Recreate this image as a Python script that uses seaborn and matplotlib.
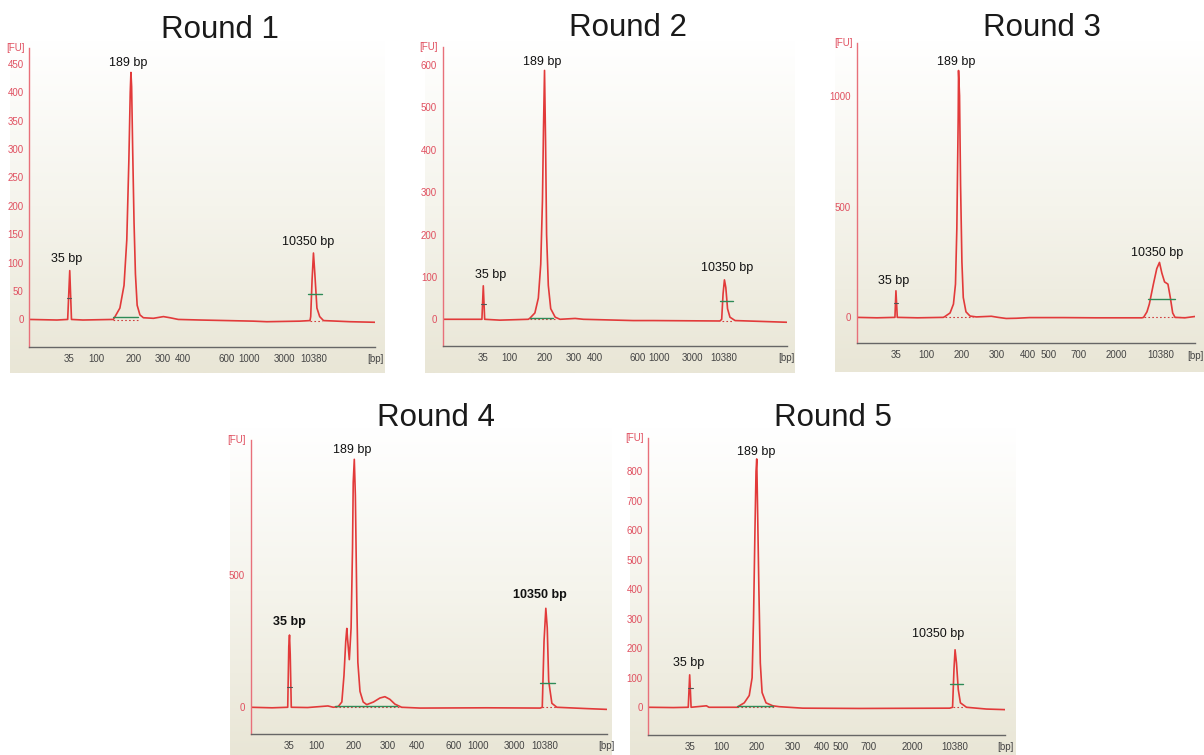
import numpy as np
import pandas as pd
import matplotlib
matplotlib.use("Agg")
import matplotlib.pyplot as plt
import seaborn as sns
from matplotlib.colors import LinearSegmentedColormap

sns.set_theme(style="white")
plt.rcParams['font.family'] = ['Liberation Sans', 'DejaVu Sans']

# ---------------- data (x = migration position, % of axis width; y = FU) -------------
r1_pos = [0, 8, 11.1, 11.7, 12.2, 15.5, 24.3, 24.8, 26.2, 27.4, 28.2, 28.8, 29.2, 29.4, 29.6, 29.9,
          30.3, 30.7, 31.2, 32.0, 33.0, 35.9, 38.8, 40.7, 43.1, 49.4, 64.8, 68.7, 78.3, 81.2, 81.4,
          81.8, 82.2, 82.6, 83.2, 84.0, 85.1, 92.8, 100]
r1_fu = [0, -1, 0, 86, 0, -1, 0, 5, 20, 60, 140, 280, 400, 435, 410, 300,
         170, 80, 25, 8, 3, 2, 5, 3, 0, -1, -3, -4, -3, -2, 5,
         70, 117, 80, 20, 5, -2, -4, -5]

r2_pos = [0, 8, 11.4, 11.8, 12.2, 16.6, 24.9, 25.4, 26.8, 27.8, 28.5, 29.0, 29.3, 29.6, 29.9, 30.2,
          30.7, 31.4, 32.7, 34.1, 38.5, 40.9, 55.4, 61.2, 80.6, 81.1, 81.5, 81.9, 82.3, 82.8, 83.5,
          85.0, 100]
r2_fu = [0, 0, 0, 79, 0, -2, 0, 3, 15, 50, 130, 280, 450, 587, 420, 200,
         80, 25, 5, 0, 2, 0, -3, -3, -4, 0, 60, 93, 75, 25, 5,
         -3, -7]

r3_pos = [0, 6, 11.3, 11.6, 12.0, 18, 25.6, 26.1, 27.6, 28.6, 29.2, 29.6, 30.0, 30.1, 30.4, 30.7,
          31.1, 31.5, 32.3, 33.5, 35.4, 39.8, 41.8, 44.2, 47.2, 51.1, 60.9, 70.6, 84.3, 84.8, 85.8,
          86.5, 87.7, 88.7, 89.5, 90.2, 91.0, 92.0, 92.7, 93.4, 94.1, 97, 100]
r3_fu = [0, -2, 0, 120, 0, -2, 0, 4, 20, 60, 150, 400, 900, 1114, 1000, 600,
         250, 90, 25, 6, 2, 5, 0, -5, -4, -1, -1, -2, -2, 0, 25,
         60, 150, 220, 248, 200, 160, 150, 90, 20, 0, -2, 4]

r4_pos = [0, 6, 10.4, 10.7, 10.9, 11.1, 11.4, 16, 21.7, 23.2, 24.6, 25.6, 26.2, 26.7, 27.0, 27.2,
          27.7, 28.2, 28.6, 28.8, 29.1, 29.4, 29.8, 30.1, 30.7, 31.6, 32.6, 34.5, 36.3, 37.7, 39.1,
          40.5, 42.4, 47.6, 66.3, 81.3, 81.9, 82.4, 82.9, 83.3, 83.7, 84.6, 86.0, 94.4, 100]
r4_fu = [0, -2, 0, 230, 273, 200, 0, -1, 5, 0, 3, 20, 120, 250, 298, 260,
         180, 300, 600, 850, 937, 800, 400, 170, 60, 20, 10, 20, 35, 40, 30,
         12, 0, -3, -2, -3, 0, 250, 374, 300, 100, 15, 0, -5, -8]

r5_pos = [0, 7, 11.2, 11.6, 12.0, 16.3, 17, 25.0, 25.5, 26.9, 28.3, 29.1, 29.5, 29.9, 30.2, 30.4,
          30.6, 31.0, 31.4, 31.9, 33.0, 34.9, 36.7, 43.3, 59.2, 84.5, 85.3, 85.7, 86.0, 86.4, 86.9,
          87.5, 89.2, 94.8, 100]
r5_fu = [0, -1, 0, 110, 0, 5, 0, 0, 5, 15, 40, 100, 300, 600, 800, 842,
         700, 400, 150, 50, 15, 5, 2, -3, -4, -3, 0, 130, 195, 150, 60,
         15, 0, -6, -8]

ticks_a = ["35", "", "100", "", "200", "300", "400", "", "600", "", "1000", "", "3000", "", "10380"]
ticks_b = ["35", "", "100", "", "200", "300", "400", "500", "", "700", "", "2000", "", "", "10380"]
r1_tick_pos = [11.6, 14.0, 19.3, 24.8, 30.1, 38.5, 44.4, 52.7, 57.1, 60.7, 63.6, 70.6, 73.7, 78.8, 82.2]
r2_tick_pos = [11.8, 14.2, 19.4, 24.6, 29.5, 38.2, 44.2, 52.7, 56.6, 60.3, 63.0, 70.4, 72.7, 78.7, 81.8]
r3_tick_pos = [11.6, 14.0, 20.6, 26.0, 30.9, 41.3, 50.6, 56.8, 62.2, 65.6, 70.4, 76.7, 80.1, 85.8, 89.9]
r4_tick_pos = [10.8, 13.2, 18.5, 23.7, 28.8, 38.4, 46.6, 52.7, 57.0, 60.7, 63.8, 71.0, 74.0, 79.4, 82.7]
r5_tick_pos = [11.8, 14.2, 20.5, 25.4, 30.5, 40.4, 48.7, 53.9, 60.1, 61.7, 67.7, 74.0, 76.9, 82.5, 86.0]

r1_yticks = [0, 50, 100, 150, 200, 250, 300, 350, 400, 450]
r2_yticks = [0, 100, 200, 300, 400, 500, 600]
r3_yticks = [0, 500, 1000]
r4_yticks = [0, 500]
r5_yticks = [0, 100, 200, 300, 400, 500, 600, 700, 800]

peak_names = ["35 bp", "189 bp", "10350 bp"]
r1_lab = [(10.8, 106), (28.6, 451), (80.7, 137)]
r2_lab = [(14.0, 105), (29.0, 606), (82.7, 120)]
r3_lab = [(10.9, 166), (29.4, 1152), (88.7, 292)]
r4_lab = [(10.8, 321), (28.5, 972), (81.1, 424)]
r5_lab = [(11.4, 149), (30.2, 865), (81.2, 248)]

# region markers: (x0, x1, y)
r1_green = [(24.3, 31.5, 4), (80.7, 84.6, 44)]
r1_black = [(10.8, 12.2, 37)]
r1_dots = [(24.3, 32.0, -1), (81.2, 84.6, -2)]
r2_green = [(25.4, 32.2, 4), (80.6, 84.5, 43)]
r2_black = [(11.1, 12.6, 35)]
r2_dots = [(25.4, 32.7, 0), (81.1, 84.5, -3)]
r3_green = [(86.0, 94.1, 85)]
r3_black = [(11.0, 12.3, 67)]
r3_dots = [(26.1, 34.5, 0), (84.8, 97.0, 0)]
r4_green = [(23.7, 41.0, 3), (81.3, 85.5, 92)]
r4_black = [(10.1, 11.5, 75)]
r4_dots = [(23.7, 42.4, 0), (81.9, 86.0, 0)]
r5_green = [(25.0, 34.9, 3), (84.5, 88.3, 79)]
r5_black = [(11.0, 12.4, 67)]
r5_dots = [(25.0, 35.5, 0), (85.3, 88.3, 0)]

panels = [
    dict(title="Round 1", pos=r1_pos, fu=r1_fu, tpos=r1_tick_pos, tlab=ticks_a, yt=r1_yticks,
         ylim=(-48, 478), lab=r1_lab, green=r1_green, black=r1_black, dots=r1_dots,
         box=(10, 40, 385, 373), ax=(29.3, 48, 375, 346.7), tx=(220, 38), bold=False),
    dict(title="Round 2", pos=r2_pos, fu=r2_fu, tpos=r2_tick_pos, tlab=ticks_a, yt=r2_yticks,
         ylim=(-63, 643), lab=r2_lab, green=r2_green, black=r2_black, dots=r2_dots,
         box=(425, 40, 795, 373), ax=(442.7, 46.7, 786.7, 346), tx=(628, 36), bold=False),
    dict(title="Round 3", pos=r3_pos, fu=r3_fu, tpos=r3_tick_pos, tlab=ticks_b, yt=r3_yticks,
         ylim=(-117, 1238), lab=r3_lab, green=r3_green, black=r3_black, dots=r3_dots,
         box=(835, 40, 1204, 372), ax=(856.7, 43, 1195, 343.3), tx=(1042, 36), bold=False),
    dict(title="Round 4", pos=r4_pos, fu=r4_fu, tpos=r4_tick_pos, tlab=ticks_a, yt=r4_yticks,
         ylim=(-101, 1010), lab=r4_lab, green=r4_green, black=r4_black, dots=r4_dots,
         box=(230, 427, 612, 755), ax=(250.7, 440, 606.7, 734), tx=(436, 426), bold=True),
    dict(title="Round 5", pos=r5_pos, fu=r5_fu, tpos=r5_tick_pos, tlab=ticks_b, yt=r5_yticks,
         ylim=(-94, 913), lab=r5_lab, green=r5_green, black=r5_black, dots=r5_dots,
         box=(630, 427, 1015, 755), ax=(648.3, 438, 1005, 735), tx=(833, 426), bold=False),
]

W, H = 1204, 755
fig = plt.figure(figsize=(W / 100, H / 100), dpi=100)
fig.patch.set_facecolor("white")

grad = np.linspace(0, 1, 256).reshape(-1, 1)
bg_cmap = LinearSegmentedColormap.from_list("bg", ["#ffffff", "#f5f4ec", "#e9e6d6"])

LINE = "#e23a3a"
SPINE_RED = "#e8707a"
narrow = ['Liberation Sans Narrow', 'Liberation Sans', 'DejaVu Sans']

for p in panels:
    x0, y0, x1, y1 = p["box"]
    bg = fig.add_axes([x0 / W, 1 - y1 / H, (x1 - x0) / W, (y1 - y0) / H], zorder=0)
    bg.imshow(grad, aspect="auto", cmap=bg_cmap, extent=(0, 1, 0, 1), origin="upper")
    bg.set_axis_off()

    ax0, ay0, ax1, ay1 = p["ax"]
    ax = fig.add_axes([ax0 / W, 1 - ay1 / H, (ax1 - ax0) / W, (ay1 - ay0) / H], zorder=1)
    ax.patch.set_alpha(0)

    df = pd.DataFrame({"pos": p["pos"], "fu": p["fu"]})
    sns.lineplot(data=df, x="pos", y="fu", ax=ax, color=LINE, lw=1.2, estimator=None, sort=False)

    for (a, b, y) in p["dots"]:
        ax.plot([a, b], [y, y], color="#d04040", lw=0.8, ls=(0, (1.5, 2)), zorder=1)
    for (a, b, y) in p["green"]:
        ax.plot([a, b], [y, y], color="#2e8b57", lw=1.0, zorder=3)
    for (a, b, y) in p["black"]:
        ax.plot([a, b], [y, y], color="#555555", lw=0.8, zorder=3)

    for name, (lx, ly) in zip(peak_names, p["lab"]):
        fw = "bold" if (p["bold"] and name != "189 bp") else "normal"
        ax.text(lx, ly, name, ha="center", va="center", fontsize=9, color="#111111", fontweight=fw)

    ax.set_xlim(0, 100)
    ax.set_ylim(*p["ylim"])
    ax.set_xticks(p["tpos"])
    ax.set_xticklabels(p["tlab"], fontsize=7, color="#444444", family=narrow)
    ax.set_yticks(p["yt"])
    ax.set_yticklabels([str(v) for v in p["yt"]], fontsize=7, color="#e05060", family=narrow)
    ax.tick_params(axis="x", direction="out", length=3.5, width=0.8, color="#555555", pad=1.5)
    ax.tick_params(axis="y", direction="out", length=3, width=0.8, color=SPINE_RED, pad=1)
    ax.set_xlabel("")
    ax.set_ylabel("")
    for s in ["top", "right"]:
        ax.spines[s].set_visible(False)
    ax.spines["left"].set_color(SPINE_RED)
    ax.spines["left"].set_linewidth(1.0)
    ax.spines["bottom"].set_color("#666666")
    ax.spines["bottom"].set_linewidth(1.0)

    ax.text(-0.04, 1.0, "[FU]", transform=ax.transAxes, ha="center", va="center",
            fontsize=7, color="#e05060", family=narrow)
    ax.text(1.0, -0.025, "[bp]", transform=ax.transAxes, ha="center", va="top",
            fontsize=7, color="#444444", family=narrow)

    fig.text(p["tx"][0] / W, 1 - p["tx"][1] / H, p["title"], ha="center", va="baseline",
             fontsize=22.5, color="#1a1a1a")

fig.savefig("out.png", dpi=100)
